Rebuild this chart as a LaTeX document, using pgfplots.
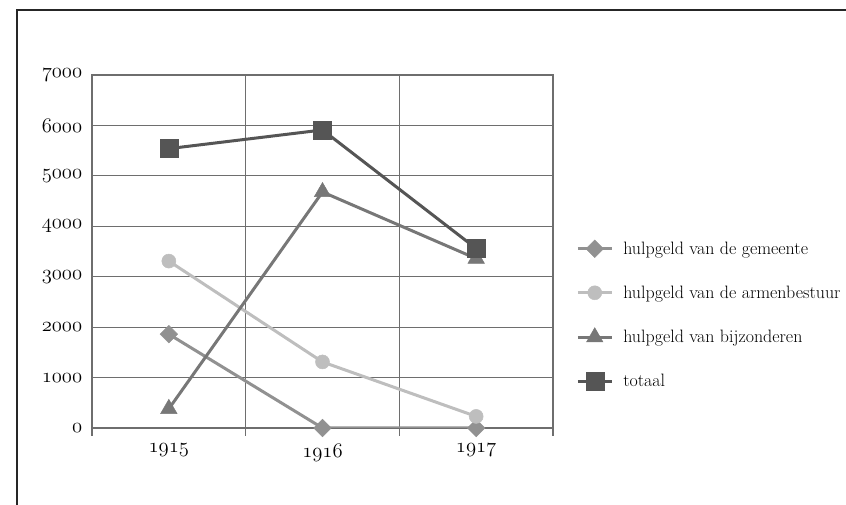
\documentclass[border=0pt]{standalone}
\usepackage{pgfplots}
\pgfplotsset{compat=1.18}
\definecolor{cgem}{HTML}{919191}
\definecolor{carm}{HTML}{BEBEBE}
\definecolor{cbij}{HTML}{777777}
\definecolor{ctot}{HTML}{555555}
\definecolor{cgrid}{HTML}{6E6E6E}
\newcommand\osn[1]{{\fontsize{20}{24}\usefont{OML}{lmm}{m}{it}#1}}
\begin{document}
\begin{tikzpicture}[font=\fontsize{18}{21}\selectfont]
\useasboundingbox (0,0) rectangle (846bp,505bp);
\draw[line width=1.2bp, black!85] (17bp,0) -- (17bp,495bp) -- (846bp,495bp);
\begin{axis}[
  at={(92bp,77bp)}, anchor=south west,
  scale only axis, width=461bp, height=353bp,
  xmin=-0.5, xmax=2.5, ymin=0, ymax=7000,
  xtick={0,1,2}, xticklabels={\osn{1915},\osn{1916},\osn{1917}},
  minor xtick={-0.5,0.5,1.5,2.5},
  ytick={0,1000,...,7000},
  yticklabels={\osn{0},\osn{1000},\osn{2000},\osn{3000},\osn{4000},\osn{5000},\osn{6000},\osn{7000}},
  major x tick style={draw=none},
  major y tick style={draw=none},
  minor tick length=8bp,
  minor x tick style={line width=1.2bp, cgrid},
  xtick pos=bottom, tick align=outside,
  ymajorgrids, xminorgrids,
  grid style={line width=1.2bp, cgrid},
  axis line style={line width=1.2bp, cgrid},
  scaled y ticks=false,
  xticklabel style={yshift=-8bp},
  yticklabel style={xshift=-2bp},
  legend cell align=left,
  legend style={draw=none, fill=none, at={(axis description cs:1.05,0.32)}, anchor=west, row sep=26bp, inner sep=0pt,
    nodes={inner sep=2bp}, font=\fontsize{18}{21}\selectfont},
  legend image code/.code={\draw[#1, mark repeat=2, mark phase=2] plot coordinates {(0bp,0bp)(17bp,0bp)(34bp,0bp)}; \path (42bp,0bp);},
]
\addplot[line width=3bp, cgem, mark=square*, mark size=6.2bp, mark options={rotate=45, rounded corners=1.5bp, solid, line width=0.5bp}] coordinates {(0,1860)(1,0)(2,0)};
\addlegendentry{hulpgeld van de gemeente}
\addplot[line width=3bp, carm, mark=*, mark size=7bp, mark options={line width=0.5bp}] coordinates {(0,3310)(1,1310)(2,230)};
\addlegendentry{hulpgeld van de armenbestuur}
\addplot[line width=3bp, cbij, mark=triangle*, mark size=9.5bp, mark options={solid, line width=0.5bp}] coordinates {(0,380)(1,4680)(2,3360)};
\addlegendentry{hulpgeld van bijzonderen}
\addplot[line width=3bp, ctot, mark=square*, mark size=9bp, mark options={rounded corners=2.5bp, solid, line width=0.5bp}] coordinates {(0,5540)(1,5910)(2,3560)};
\addlegendentry{totaal}
\end{axis}
\end{tikzpicture}
\end{document}
